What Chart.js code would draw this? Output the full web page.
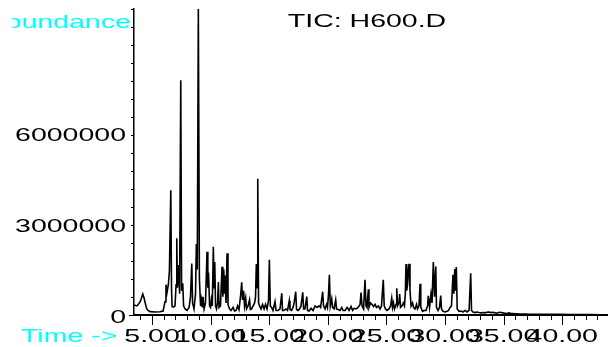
<!DOCTYPE html>
<html lang="en">
<head>
    <meta charset="UTF-8">
    <title>TIC: H600.D</title>
    <script src="https://cdn.jsdelivr.net/npm/chart.js@4.4.1/dist/chart.umd.min.js"></script>
    <style>
        body { margin: 0; background: #fff; }
    </style>
</head>
<body>
    <canvas id="tic" width="608" height="347"></canvas>
<script>
    // retention time in minutes
    const retentionTimes = [
        3.46, 3.72, 3.98, 4.10, 4.21, 4.32, 4.40, 4.55, 4.66, 4.83, 5.26, 5.68, 5.94, 6.11, 6.19, 6.28, 6.39, 6.48, 6.60, 6.66,
        6.71, 6.83, 6.96, 7.05, 7.11, 7.16, 7.22, 7.28, 7.35, 7.45, 7.52, 7.62, 7.69, 7.82, 7.99, 8.16, 8.28, 8.39, 8.46, 8.58,
        8.71, 8.78, 8.86, 8.95, 9.04, 9.14, 9.22, 9.28, 9.35, 9.44, 9.56, 9.69, 9.76, 9.82, 9.91, 9.99, 10.06, 10.14, 10.23, 10.29,
        10.35, 10.42, 10.50, 10.59, 10.66, 10.72, 10.84, 10.97, 11.04, 11.12, 11.19, 11.25, 11.31, 11.40, 11.48, 11.61, 11.74, 11.91, 12.04, 12.17,
        12.30, 12.42, 12.57, 12.65, 12.72, 12.81, 12.89, 12.99, 13.06, 13.19, 13.32, 13.39, 13.49, 13.62, 13.75, 13.83, 13.90, 13.96, 14.02, 14.09,
        14.17, 14.30, 14.43, 14.56, 14.68, 14.81, 14.94, 15.01, 15.09, 15.20, 15.32, 15.49, 15.58, 15.75, 15.92, 16.07, 16.13, 16.26, 16.43, 16.56,
        16.71, 16.77, 16.90, 17.03, 17.12, 17.26, 17.33, 17.46, 17.58, 17.71, 17.86, 17.93, 18.05, 18.20, 18.27, 18.40, 18.57, 18.74, 18.91, 19.08,
        19.25, 19.38, 19.56, 19.63, 19.76, 19.89, 19.97, 20.06, 20.13, 20.21, 20.33, 20.40, 20.53, 20.67, 20.74, 20.87, 21.04, 21.19, 21.30, 21.47,
        21.64, 21.81, 21.98, 22.11, 22.24, 22.41, 22.58, 22.75, 22.83, 22.92, 23.05, 23.17, 23.26, 23.34, 23.46, 23.51, 23.64, 23.77, 23.90, 24.03,
        24.15, 24.31, 24.45, 24.58, 24.73, 24.81, 24.92, 25.05, 25.22, 25.35, 25.45, 25.52, 25.60, 25.69, 25.82, 25.88, 25.95, 26.07, 26.13, 26.20,
        26.33, 26.44, 26.54, 26.61, 26.67, 26.73, 26.80, 26.87, 26.93, 27.01, 27.10, 27.23, 27.31, 27.44, 27.57, 27.65, 27.78, 27.87, 27.93, 28.08,
        28.21, 28.38, 28.51, 28.57, 28.68, 28.80, 28.89, 29.00, 29.10, 29.21, 29.27, 29.40, 29.53, 29.63, 29.70, 29.83, 30.00, 30.17, 30.30, 30.43,
        30.55, 30.68, 30.75, 30.83, 30.89, 30.96, 31.04, 31.19, 31.36, 31.53, 31.71, 31.88, 32.05, 32.19, 32.26, 32.39, 32.56, 32.73, 32.90, 33.07,
        33.24, 33.41, 33.58, 33.75, 33.92, 34.09, 34.27, 34.44, 34.61, 34.78, 34.95, 35.12, 35.29, 35.46, 35.63, 35.80, 35.97, 36.14, 36.40, 36.82,
        37.25, 38.10, 38.96, 39.81, 40.66, 41.52, 42.37, 43.22, 43.82
    ];

    // total ion current (abundance) at each time above
    const abundance = [
        330000, 300000, 430000, 560000, 690000, 560000, 420000, 200000, 150000, 110000, 100000, 105000, 130000, 440000, 1000000, 750000, 1000000, 1440000, 4120000, 900000,
        280000, 260000, 300000, 1000000, 2530000, 900000, 1200000, 1650000, 700000, 7750000, 800000, 1050000, 300000, 200000, 150000, 250000, 600000, 1700000, 400000, 200000,
        700000, 2340000, 1500000, 10100000, 1200000, 300000, 500000, 250000, 600000, 200000, 400000, 2090000, 900000, 1400000, 300000, 250000, 500000, 300000, 2250000, 900000,
        1750000, 300000, 200000, 400000, 1090000, 250000, 300000, 1590000, 600000, 1500000, 700000, 1300000, 400000, 2040000, 350000, 200000, 150000, 250000, 130000, 150000,
        300000, 180000, 700000, 1080000, 500000, 800000, 300000, 550000, 200000, 300000, 500000, 180000, 200000, 300000, 400000, 600000, 1680000, 900000, 4500000, 400000,
        300000, 200000, 350000, 200000, 350000, 200000, 500000, 1820000, 300000, 250000, 150000, 440000, 150000, 150000, 200000, 720000, 150000, 150000, 200000, 150000,
        470000, 180000, 150000, 250000, 400000, 770000, 180000, 150000, 200000, 300000, 750000, 200000, 200000, 610000, 150000, 130000, 220000, 150000, 300000, 250000,
        300000, 250000, 770000, 300000, 200000, 350000, 250000, 700000, 1330000, 300000, 530000, 250000, 200000, 500000, 200000, 180000, 150000, 250000, 150000, 150000,
        250000, 150000, 280000, 150000, 220000, 200000, 250000, 350000, 740000, 300000, 200000, 1160000, 300000, 250000, 850000, 250000, 400000, 350000, 280000, 350000,
        250000, 300000, 200000, 300000, 1160000, 300000, 200000, 150000, 200000, 300000, 550000, 250000, 400000, 200000, 350000, 880000, 300000, 400000, 690000, 250000,
        300000, 400000, 300000, 700000, 1680000, 800000, 1000000, 1500000, 1690000, 830000, 300000, 400000, 250000, 200000, 350000, 200000, 300000, 1030000, 250000, 120000,
        150000, 150000, 300000, 630000, 250000, 690000, 400000, 1750000, 600000, 1600000, 250000, 150000, 250000, 640000, 200000, 120000, 100000, 120000, 150000, 250000,
        300000, 1330000, 700000, 1520000, 800000, 1580000, 200000, 120000, 130000, 100000, 150000, 100000, 150000, 1380000, 150000, 100000, 80000, 100000, 80000, 70000,
        80000, 70000, 90000, 100000, 80000, 90000, 70000, 60000, 90000, 80000, 70000, 60000, 50000, 70000, 50000, 50000, 40000, 40000, 30000, 30000,
        25000, 25000, 20000, 20000, 15000, 15000, 15000, 10000, 10000
    ];

    const xTickLabels = ['5.00', '10.00', '15.00', '20.00', '25.00', '30.00', '35.00', '40.00'];
    const yTickLabels = ['0', '3000000', '6000000'];

    const SX = 1.5; // the instrument font is drawn wide
    const FONT = '19px "Liberation Sans", Arial, sans-serif';

    function wideText(ctx, text, x, y, align, color) {
        ctx.save();
        ctx.font = FONT;
        ctx.fillStyle = color;
        ctx.textAlign = 'left';
        ctx.textBaseline = 'alphabetic';
        const w = ctx.measureText(text).width * SX;
        let left = x;
        if (align === 'right') left = x - w;
        if (align === 'center') left = x - w / 2;
        ctx.translate(left, y);
        ctx.scale(SX, 1);
        ctx.fillText(text, 0, 0);
        ctx.restore();
    }

    // tick marks, tick labels and the axis captions
    const axisText = {
        id: 'axisText',
        afterDraw(chart) {
            const ctx = chart.ctx;
            const xs = chart.scales.x, ys = chart.scales.y;
            const area = chart.chartArea;

            ctx.save();
            ctx.strokeStyle = '#000';
            ctx.lineWidth = 1;
            ys.ticks.forEach(t => {
                const py = Math.round(ys.getPixelForValue(t.value)) + 0.5;
                const len = t.value % 3000000 === 0 ? 5 : 3;
                ctx.beginPath();
                ctx.moveTo(area.left - len, py);
                ctx.lineTo(area.left, py);
                ctx.stroke();
            });
            xs.ticks.forEach(t => {
                if (t.value < xs.min || t.value > xs.max) return;
                const px = Math.round(xs.getPixelForValue(t.value)) + 0.5;
                const len = t.value % 5 === 0 ? 10 : 5;
                ctx.beginPath();
                ctx.moveTo(px, area.bottom);
                ctx.lineTo(px, area.bottom + len);
                ctx.stroke();
            });
            ctx.restore();

            yTickLabels.forEach(s => {
                wideText(ctx, s, 126, ys.getPixelForValue(Number(s)) + 8, 'right', '#000');
            });
            xTickLabels.forEach(s => {
                wideText(ctx, s, xs.getPixelForValue(parseFloat(s)), 342, 'center', '#000');
            });

            wideText(ctx, 'Time ->', 21, 342, 'left', '#00ffff');
            wideText(ctx, 'TIC: H600.D', 367, 27, 'center', '#000');

            ctx.save();
            ctx.beginPath();
            ctx.rect(12, 0, 200, 40);
            ctx.clip();
            wideText(ctx, 'Abundance', 131, 28, 'right', '#00ffff');
            ctx.restore();
        }
    };

    const points = retentionTimes.map((t, i) => ({ x: t, y: abundance[i] }));

    const ctx = document.getElementById('tic').getContext('2d');
    const ticChart = new Chart(ctx, {
        type: 'line',
        data: {
            datasets: [{
                label: 'TIC: H600.D',
                data: points,
                borderColor: '#000',
                borderWidth: 1.6,
                pointRadius: 0,
                tension: 0,
                fill: false
            }]
        },
        options: {
            responsive: false,
            animation: false,
            layout: { padding: { left: 134, right: 1, top: 9, bottom: 32 } },
            plugins: { legend: { display: false }, tooltip: { enabled: false } },
            scales: {
                x: {
                    type: 'linear',
                    min: 3.46,
                    max: 43.82,
                    grid: { display: false },
                    border: { display: true, color: '#000', width: 2 },
                    ticks: { display: false, stepSize: 1, includeBounds: false },
                    afterFit: s => { s.height = 0; }
                },
                y: {
                    min: 0,
                    max: 10100000,
                    grid: { display: false },
                    border: { display: true, color: '#000', width: 1.5 },
                    ticks: { display: false, stepSize: 600000, includeBounds: false },
                    afterFit: s => { s.width = 0; }
                }
            }
        },
        plugins: [axisText]
    });
</script>
</body>
</html>
